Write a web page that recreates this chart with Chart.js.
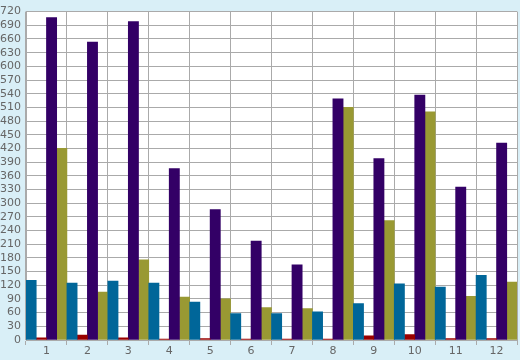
<!DOCTYPE html>
<html>
<head>
<meta charset="utf-8">
<script src="https://cdn.jsdelivr.net/npm/chart.js@4/dist/chart.umd.min.js"></script>
<style>
    html, body { margin: 0; padding: 0; background: #d9eff7; }
    #wrap { width: 520px; height: 360px; }
</style>
</head>
<body>
<div id="wrap"><canvas id="chart" width="520" height="360"></canvas></div>
<script>
// data
const categories = ['1', '2', '3', '4', '5', '6', '7', '8', '9', '10', '11', '12'];
const blueValues = [131, 125, 129, 125, 83, 58, 58, 62, 80, 123, 116, 142];
const redValues = [5, 11, 5, 2, 3, 2, 2, 2, 9, 12, 3, 3];
const purpleValues = [707, 653, 698, 376, 286, 217, 165, 529, 398, 537, 335, 432];
const oliveValues = [420, 105, 176, 94, 90, 71, 69, 510, 262, 500, 96, 127];
const yTicks = [0, 30, 60, 90, 120, 150, 180, 210, 240, 270, 300, 330, 360, 390,
    420, 450, 480, 510, 540, 570, 600, 630, 660, 690, 720];

const gridColor = '#aaaaaa';
const labelColor = '#666666';

/**
 * paint the plot area white before the bars
 */
const plotBackground = {
    id: 'plotBackground',
    beforeDraw(chart) {
        const { ctx, chartArea } = chart;
        ctx.save();
        ctx.fillStyle = '#ffffff';
        ctx.fillRect(chartArea.left, chartArea.top,
            chartArea.right - chartArea.left, chartArea.bottom - chartArea.top);
        ctx.restore();
    }
};

function makeDataset(label, values, color) {
    return {
        label: label,
        data: values,
        backgroundColor: color,
        borderWidth: 0,
        categoryPercentage: 1,
        barPercentage: 1
    };
}

const ctx = document.getElementById('chart').getContext('2d');
new Chart(ctx, {
    type: 'bar',
    data: {
        labels: categories,
        datasets: [
            makeDataset('A', blueValues, '#006699'),
            makeDataset('B', redValues, '#990000'),
            makeDataset('C', purpleValues, '#330066'),
            makeDataset('D', oliveValues, '#999933')
        ]
    },
    options: {
        responsive: false,
        animation: false,
        layout: { padding: { top: 5, right: 3, left: 0, bottom: 0 } },
        plugins: {
            legend: { display: false },
            tooltip: { enabled: false }
        },
        scales: {
            x: {
                offset: true,
                grid: {
                    offset: true,
                    color: gridColor,
                    lineWidth: 1,
                    drawTicks: true,
                    tickLength: 5
                },
                border: { color: gridColor },
                ticks: {
                    color: labelColor,
                    font: { family: 'DejaVu Sans', size: 11 },
                    padding: 0,
                    maxRotation: 0
                },
                afterFit(scale) { scale.height = 20; }
            },
            y: {
                min: 0,
                max: 720,
                afterBuildTicks(scale) {
                    scale.ticks = yTicks.map(v => ({ value: v }));
                },
                grid: {
                    color: gridColor,
                    lineWidth: 1,
                    drawTicks: false
                },
                border: { color: gridColor },
                ticks: {
                    color: labelColor,
                    font: { family: 'DejaVu Sans', size: 11 },
                    padding: 5,
                    autoSkip: false
                },
                afterFit(scale) { scale.width = 26; }
            }
        }
    },
    plugins: [plotBackground]
});
</script>
</body>
</html>
